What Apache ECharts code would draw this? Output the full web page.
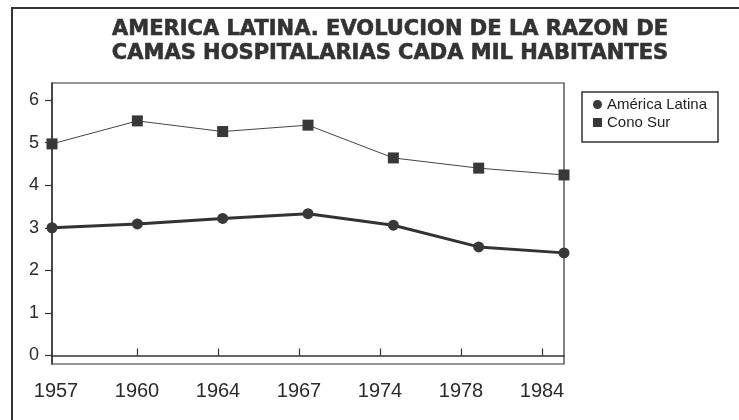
<!DOCTYPE html>
<html>
<head>
<meta charset="utf-8">
<script src="https://cdn.jsdelivr.net/npm/echarts@6/dist/echarts.min.js"></script>
<style>html,body{margin:0;padding:0;background:#fff;}#c{width:739px;height:420px;}</style>
</head>
<body>
<div id="c"></div>
<script>
var years = ['1957', '1960', '1964', '1967', '1974', '1978', '1984'];
var americaLatina = [3.0, 3.09, 3.22, 3.33, 3.06, 2.55, 2.41];
var conoSur = [4.97, 5.51, 5.26, 5.41, 4.64, 4.40, 4.24];
var yTicks = [0, 1, 2, 3, 4, 5, 6];
var titleText = 'AMERICA LATINA. EVOLUCION DE LA RAZON DE\nCAMAS HOSPITALARIAS CADA MIL HABITANTES';

var chart = echarts.init(document.getElementById('c'), null, {renderer: 'canvas'});
var ink = '#2b2b2b';
var option = {
  backgroundColor: '#ffffff',
  animation: false,
  title: {
    text: titleText,
    left: 385,
    top: 13,
    textAlign: 'center',
    textStyle: {
      fontFamily: 'DejaVu Sans',
      fontWeight: 'bold',
      fontSize: 21,
      lineHeight: 24,
      color: '#333333',
      textBorderColor: '#333333',
      textBorderWidth: 0.6
    }
  },
  graphic: [
    {type: 'rect', shape: {x: 12, y: 8, width: 800, height: 500}, style: {fill: 'none', stroke: '#333', lineWidth: 2}, silent: true, z: -1},
    {type: 'rect', shape: {x: 582, y: 92, width: 136, height: 50}, style: {fill: 'none', stroke: '#333', lineWidth: 1.5}, silent: true}
  ],
  legend: {
    orient: 'vertical',
    left: 593,
    top: 97,
    padding: 0,
    itemWidth: 9,
    itemHeight: 9,
    itemGap: 3,
    data: [{name: 'América Latina', icon: 'circle'}, {name: 'Cono Sur', icon: 'rect'}],
    textStyle: {fontFamily: 'Liberation Sans', fontSize: 15, color: '#222'}
  },
  grid: [
    {left: 52, right: 175, top: 83, bottom: 56, show: true, borderColor: '#333', borderWidth: 1.2, backgroundColor: 'transparent'},
    {left: 56, right: 197, top: 83, bottom: 56}
  ],
  xAxis: [
    {
      type: 'category', gridIndex: 0, data: years, boundaryGap: false,
      axisLine: {show: true, lineStyle: {color: '#333', width: 1.5}},
      axisTick: {show: false}, axisLabel: {show: false}, splitLine: {show: false}
    },
    {
      type: 'category', gridIndex: 1, data: years, boundaryGap: false, position: 'bottom',
      axisLine: {show: false},
      axisTick: {show: true, inside: true, length: 7, lineStyle: {color: '#333', width: 1.2},
        interval: function (i) { return i > 0; }},
      axisLabel: {show: true, interval: 0, margin: 17, fontFamily: 'Liberation Sans', fontSize: 20, color: ink},
      splitLine: {show: false}
    }
  ],
  yAxis: [
    {
      type: 'value', gridIndex: 0, min: -0.2, max: 6.4,
      axisLine: {show: true, lineStyle: {color: '#333', width: 1.5}},
      axisTick: {show: true, length: 7, customValues: yTicks, lineStyle: {color: '#333', width: 1.2}},
      axisLabel: {show: true, customValues: yTicks, margin: 13, fontFamily: 'Liberation Sans', fontSize: 18, color: ink},
      splitLine: {show: false}
    },
    {type: 'value', gridIndex: 1, min: -0.2, max: 6.4, show: false}
  ],
  series: [
    {
      name: 'América Latina', type: 'line', xAxisIndex: 0, yAxisIndex: 0,
      data: americaLatina, symbol: 'circle', symbolSize: 11,
      lineStyle: {color: '#333', width: 3}, itemStyle: {color: '#383838'}
    },
    {
      name: 'Cono Sur', type: 'line', xAxisIndex: 0, yAxisIndex: 0,
      data: conoSur, symbol: 'rect', symbolSize: 11,
      lineStyle: {color: '#444', width: 1}, itemStyle: {color: '#383838'}
    }
  ]
};
chart.setOption(option);
</script>
</body>
</html>
